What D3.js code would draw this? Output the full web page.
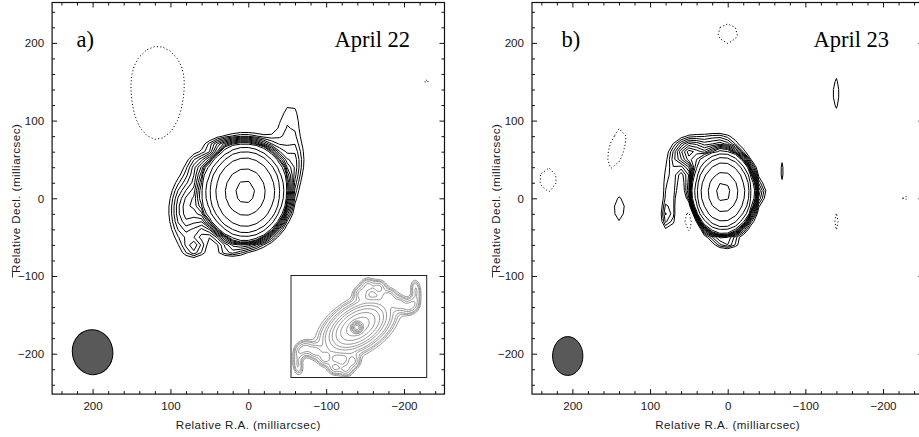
<!DOCTYPE html>
<html>
<head>
<meta charset="utf-8">
<title>Radio maps, April 22 and April 23</title>
<script src="https://cdn.jsdelivr.net/npm/d3@7/dist/d3.min.js"></script>
<style>
  html, body { margin: 0; padding: 0; background: #fff; }
  svg { display: block; }
  .tick text { font-family: "Liberation Sans", Arial, Helvetica, sans-serif; font-size: 11.6px; fill: #1a1a1a; }
</style>
</head>
<body>
<svg id="chart" width="919" height="437"></svg>
<script>
// Contour levels, percent of the map peak
const posLevels = [2, 2.5, 3, 3.5, 4, 4.5, 5, 5.5, 6, 6.5, 7.5, 11, 16, 27, 54, 86];
const negLevels = [-2];

// Source model components:
// [R.A. offset (mas), Dec offset (mas), peak (%), sigma R.A. (mas), sigma Dec (mas), rotation (deg)]
const componentsApr22 = [
  [4, 8, 100, 23, 27, 0],
  [80, -15, 4.6, 17, 36, 0],
  [65, 45, 2.2, 12, 14, 0],
  [68, -65, 2.6, 10, 8, 0],
  [25, -68, 2.2, 14, 6, 0],
  [40, 72, 2.0, 15, 6, 0],
  [-52, 95, 2.4, 18, 40, 8],
  [-62, 45, 2.3, 9, 22, 0],
  [117, 132, -4, 27, 48, 0],
  [115, 160, -1.5, 20, 20, 0],
  [-226, 153, -2.5, 8, 10, 0]
];
const componentsApr23 = [
  [6, 8, 100, 17, 23, 0],
  [50, 58, 6, 14, 14, 0],
  [74, 15, 3.2, 8, 30, 0],
  [78, -25, 2.6, 7, 14, 0],
  [15, 76, 2.3, 20, 8, 0],
  [-45, 8, 2.3, 5, 10, 0],
  [0, -60, 2.3, 12, 4, 0],
  [140, -12, 2.52, 12, 25, 0],
  [-70, 35, 2.3, 2.5, 22, 0],
  [-139, 135, 2.4, 9, 33, 0],
  [50, -27, -5, 5, 18, -20],
  [143, 63, -3, 11, 33, 16],
  [231, 24, -3, 12, 17, 0],
  [0, 212, -3, 14, 14, 0],
  [-140, -30, -2.5, 3.5, 16, 0],
  [-226, 2, -2.5, 8, 9, 0]
];

// Restoring beams: [R.A., Dec, half-width (mas), half-height (mas), tilt (deg)]
const beamApr22 = [200, -198, 26, 29, 10];
const beamApr23 = [206, -203, 19.5, 25, 0];

// Large-scale map shown in the inset: [x, y, peak, sigma major, sigma minor, angle (deg)]
const insetComponents = [
  [-2, -1, 100, 2.5, 2.5, 0],
  [-1, 0, 25, 19, 11, 33],
  // northern arm
  [2, 33, 4, 4.5, 4.5, 0],
  [9, 41, 4, 4.5, 4.5, 0],
  [20, 39, 4, 4.5, 4.5, 0],
  [30, 30, 4, 4.5, 4.5, 0],
  [40, 23, 4, 4.5, 4.5, 0],
  [49, 19, 3.5, 4.5, 4.5, 0],
  [55, 23, 3, 4, 5, 0],
  [58, 33, 2.2, 3, 6, 0],
  [56, 40, 1.8, 3, 5, 0],
  // southern arm
  [-6, -35, 4, 4.5, 4.5, 0],
  [-13, -43, 4, 4.5, 4.5, 0],
  [-24, -41, 4, 4.5, 4.5, 0],
  [-34, -32, 4, 4.5, 4.5, 0],
  [-44, -25, 4, 4.5, 4.5, 0],
  [-53, -21, 3.5, 4.5, 4.5, 0],
  [-59, -25, 3, 4, 5, 0],
  [-62, -35, 2.2, 3, 6, 0],
  [-60, -42, 1.8, 3, 5, 0]
];
const insetLevels = [1, 1.5, 2, 3, 4, 6, 8, 11, 15, 20, 26, 33, 45, 64, 90];

const majorTicks = [-200, -100, 0, 100, 200];
const minorTicks = [-240, -220, -180, -160, -140, -120, -80, -60, -40, -20,
                    20, 40, 60, 80, 120, 140, 160, 180, 220, 240];
const panelLabels = ["a)", "b)"];
const panelDates = ["April 22", "April 23"];
const axisTitleX = "Relative R.A. (milliarcsec)";
const axisTitleY = "Relative Decl. (milliarcsec)";

// ---------------------------------------------------------------------------
const svg = d3.select("#chart");
const sans = '"Liberation Sans", Arial, Helvetica, sans-serif';
const serif = '"Liberation Serif", "Times New Roman", Times, serif';
const gridStep = 10, gridMin = -250, gridMax = 250;
const gridAxis = d3.range(gridMin, gridMax + gridStep / 2, gridStep);
const nGrid = gridAxis.length;

function gaussian(c, x, y) {
  const [cx, cy, amp, sx, sy, rot] = c;
  const t = rot * Math.PI / 180;
  const dx = x - cx, dy = y - cy;
  const u = dx * Math.cos(t) + dy * Math.sin(t);
  const v = -dx * Math.sin(t) + dy * Math.cos(t);
  return amp * Math.exp(-(u * u / (2 * sx * sx) + v * v / (2 * sy * sy)));
}

function sampleModel(comps, xs, ys) {
  const vals = new Float64Array(xs.length * ys.length);
  ys.forEach((y, j) => xs.forEach((x, i) => {
    let s = 0;
    for (const c of comps) s += gaussian(c, x, y);
    vals[j * xs.length + i] = s;
  }));
  return vals;
}

function drawPanel(opt) {
  const { xRange, yRange, comps, beam, label, date, labelX, dateX, titleX, clipId } = opt;
  const x = d3.scaleLinear().domain([252, -252]).range(xRange);
  const y = d3.scaleLinear().domain([-252, 252]).range(yRange);
  const g = svg.append("g");

  svg.append("clipPath").attr("id", clipId)
    .append("rect")
    .attr("x", xRange[0]).attr("y", yRange[1])
    .attr("width", xRange[1] - xRange[0]).attr("height", yRange[0] - yRange[1]);

  // grid index -> sky offset
  const gi = d3.scaleLinear().domain([0.5, nGrid - 0.5]).range([gridMin, gridMax]);
  const proj = d3.geoTransform({
    point(px, py) { this.stream.point(x(gi(px)), y(gi(py))); }
  });
  const path = d3.geoPath(proj);

  const field = sampleModel(comps, gridAxis, gridAxis);
  const neg = field.map(v => -v);
  const cont = d3.contours().size([nGrid, nGrid]);

  const plot = g.append("g").attr("clip-path", `url(#${clipId})`);

  plot.selectAll("path.pos")
    .data(cont.thresholds(posLevels)(field))
    .join("path")
    .attr("class", "pos")
    .attr("d", path)
    .attr("fill", "none")
    .attr("stroke", "#000")
    .attr("stroke-width", 1)
    .attr("stroke-linejoin", "round");

  plot.selectAll("path.neg")
    .data(cont.thresholds(negLevels.map(v => -v))(neg))
    .join("path")
    .attr("class", "neg")
    .attr("d", path)
    .attr("fill", "none")
    .attr("stroke", "#000")
    .attr("stroke-width", 1)
    .attr("stroke-dasharray", "1.1 2.3");

  // restoring beam
  const [bra, bdec, bw, bh, btilt] = beam;
  plot.append("ellipse")
    .attr("transform", `translate(${x(bra)},${y(bdec)}) rotate(${-btilt})`)
    .attr("rx", Math.abs(x(bw) - x(0)))
    .attr("ry", Math.abs(y(bh) - y(0)))
    .attr("fill", "#595959")
    .attr("stroke", "#000")
    .attr("stroke-width", 1);

  // axes: major and minor ticks on all four sides, pointing inward
  const x0 = xRange[0], x1 = xRange[1], yb = yRange[0], yt = yRange[1];
  const fmt = d3.format("d");
  const addAxis = (axis, tx, ty) => {
    const a = g.append("g").attr("transform", `translate(${tx},${ty})`).call(axis);
    a.select(".domain").remove();
    a.selectAll(".tick line").attr("stroke", "#111").attr("stroke-width", 1);
    return a;
  };
  addAxis(d3.axisBottom(x).tickValues(majorTicks).tickSize(-5).tickSizeOuter(0).tickPadding(8).tickFormat(fmt), 0, yb);
  addAxis(d3.axisBottom(x).tickValues(minorTicks).tickSize(-3).tickSizeOuter(0).tickFormat(""), 0, yb);
  addAxis(d3.axisTop(x).tickValues(majorTicks).tickSize(-5).tickSizeOuter(0).tickFormat(""), 0, yt);
  addAxis(d3.axisTop(x).tickValues(minorTicks).tickSize(-3).tickSizeOuter(0).tickFormat(""), 0, yt);
  addAxis(d3.axisLeft(y).tickValues(majorTicks).tickSize(-5).tickSizeOuter(0).tickPadding(8).tickFormat(fmt), x0, 0);
  addAxis(d3.axisLeft(y).tickValues(minorTicks).tickSize(-3).tickSizeOuter(0).tickFormat(""), x0, 0);
  addAxis(d3.axisRight(y).tickValues(majorTicks).tickSize(-5).tickSizeOuter(0).tickFormat(""), x1, 0);
  addAxis(d3.axisRight(y).tickValues(minorTicks).tickSize(-3).tickSizeOuter(0).tickFormat(""), x1, 0);

  g.append("rect")
    .attr("x", x0).attr("y", yt)
    .attr("width", x1 - x0).attr("height", yb - yt)
    .attr("fill", "none").attr("stroke", "#111").attr("stroke-width", 1.2);

  // axis titles
  g.append("text")
    .attr("x", x(0)).attr("y", 428.5)
    .attr("text-anchor", "middle")
    .style("font-family", sans).style("font-size", "11.6px").style("letter-spacing", "0.45px")
    .attr("fill", "#1a1a1a")
    .text(axisTitleX);
  g.append("text")
    .attr("transform", `translate(${titleX},${y(0)}) rotate(-90)`)
    .attr("text-anchor", "middle")
    .style("font-family", sans).style("font-size", "11.6px").style("letter-spacing", "0.45px")
    .attr("fill", "#1a1a1a")
    .text(axisTitleY);
  g.append("line")
    .attr("x1", titleX - 7).attr("x2", titleX - 7)
    .attr("y1", y(-95)).attr("y2", y(-102))
    .attr("stroke", "#333").attr("stroke-width", 1);

  // panel label and date
  g.append("text").attr("x", labelX).attr("y", 47)
    .style("font-family", serif).style("font-size", "22.5px").attr("fill", "#000")
    .text(label);
  g.append("text").attr("x", dateX).attr("y", 47)
    .style("font-family", serif).style("font-size", "22.5px").attr("fill", "#000")
    .text(date);

  return { x, y };
}

drawPanel({
  xRange: [52.1, 444.5], yRange: [394.1, 2.5],
  comps: componentsApr22, beam: beamApr22,
  label: panelLabels[0], date: panelDates[0],
  labelX: 76.5, dateX: 334.5, titleX: 19.5, clipId: "clipA"
});
drawPanel({
  xRange: [532, 923.4], yRange: [394.1, 2.5],
  comps: componentsApr23, beam: beamApr23,
  label: panelLabels[1], date: panelDates[1],
  labelX: 561.5, dateX: 813.5, titleX: 499.5, clipId: "clipB"
});

// Inset: larger-scale map of the jets
(function drawInset() {
  const box = { x: 291, y: 275.5, w: 135.7, h: 102 };
  const ix = d3.scaleLinear().domain([-68, 68]).range([box.x, box.x + box.w]);
  const iy = d3.scaleLinear().domain([-51, 51]).range([box.y + box.h, box.y]);
  const stepI = 1.5;
  const xs = d3.range(-66, 66.01, stepI), ys = d3.range(-49.5, 49.51, stepI);
  const gxI = d3.scaleLinear().domain([0.5, xs.length - 0.5]).range([xs[0], xs[xs.length - 1]]);
  const gyI = d3.scaleLinear().domain([0.5, ys.length - 0.5]).range([ys[0], ys[ys.length - 1]]);
  const field = sampleModel(insetComponents, xs, ys);
  const proj = d3.geoTransform({ point(px, py) { this.stream.point(ix(gxI(px)), iy(gyI(py))); } });
  const g = svg.append("g");
  g.append("rect").attr("x", box.x).attr("y", box.y).attr("width", box.w).attr("height", box.h)
    .attr("fill", "#fff").attr("stroke", "#222").attr("stroke-width", 1);
  g.selectAll("path")
    .data(d3.contours().size([xs.length, ys.length]).thresholds(insetLevels)(field))
    .join("path")
    .attr("d", d3.geoPath(proj))
    .attr("fill", "none")
    .attr("stroke", "#7a7a7a")
    .attr("stroke-width", 0.8);
})();
</script>
</body>
</html>
